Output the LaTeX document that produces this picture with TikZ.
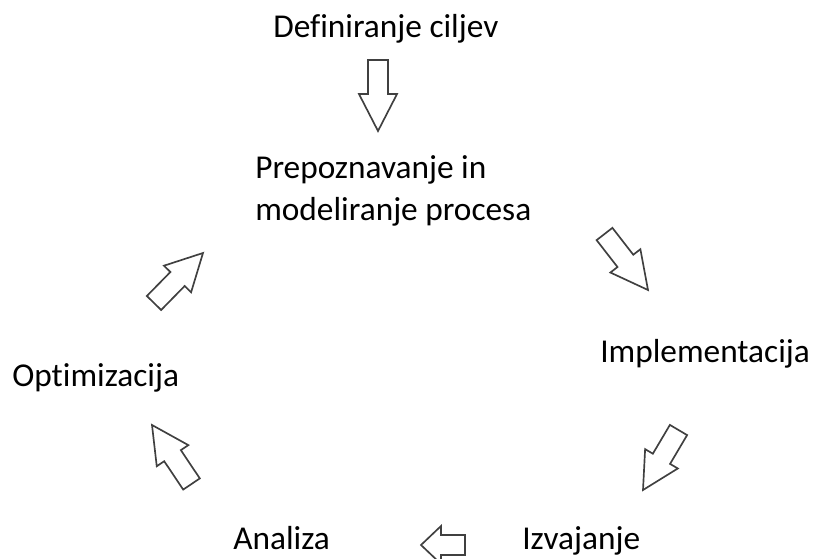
\documentclass[tikz,border=0pt]{standalone}
\usepackage{fontspec}
\setmainfont[Ligatures={NoCommon}]{Carlito}
\usetikzlibrary{calc}
\tikzset{
  lbl/.style={anchor=base west, inner sep=0pt, font=\fontsize{25}{32}\selectfont, text=black},
  barrowline/.style={draw=black!75, line width=1.25pt, fill=white, line join=miter},
}
% #1 tail, #2 tip, #3 head base fraction, #4 shaft half width, #5 head half width
\newcommand\myblockarrow[5]{%
  \coordinate (hb) at ($(#1)!#3!(#2)$);
  \path[barrowline] ($(#1)!#4!90:(#2)$) -- ($(hb)!#4!90:(#2)$) -- ($(hb)!#5!90:(#2)$) -- (#2)
    -- ($(hb)!#5!-90:(#2)$) -- ($(hb)!#4!-90:(#2)$) -- ($(#1)!#4!-90:(#2)$) -- cycle;
}
\begin{document}
\begin{tikzpicture}[x=0.75pt,y=-0.75pt]
\useasboundingbox (0,0) rectangle (813,559);
\clip (0,0) rectangle (813,559);
% texts
\node[lbl] (def) at (273,38) {Definiranje ciljev};
\node[lbl, align=left, anchor=north west] (prep) at (255,155) {Prepoznavanje in\\modeliranje procesa};
\node[lbl] (impl) at (600,362) {Implementacija};
\node[lbl] (opt) at (12,386) {Optimizacija};
\node[lbl] (ana) at (233,549) {Analiza};
\node[lbl] (izv) at (522,549) {Izvajanje};
% arrow coordinates
\coordinate (a1t) at (378,60);   \coordinate (a1h) at (378,131);
\coordinate (a2t) at (604.5,234); \coordinate (a2h) at (648,290);
\coordinate (a3t) at (678.5,430); \coordinate (a3h) at (643,490);
\coordinate (a4t) at (465,545);  \coordinate (a4h) at (421,545);
\coordinate (a5t) at (191.5,484); \coordinate (a5h) at (152,425);
\coordinate (a6t) at (154,303);  \coordinate (a6h) at (203,253);
\myblockarrow{a1t}{a1h}{0.48}{7.5pt}{14.25pt}
\myblockarrow{a2t}{a2h}{0.48}{7.5pt}{14.25pt}
\myblockarrow{a3t}{a3h}{0.48}{7.5pt}{14.25pt}
\myblockarrow{a4t}{a4h}{0.545}{7.5pt}{14.25pt}
\myblockarrow{a5t}{a5h}{0.48}{7.5pt}{14.25pt}
\myblockarrow{a6t}{a6h}{0.48}{7.5pt}{14.25pt}
\end{tikzpicture}
\end{document}
